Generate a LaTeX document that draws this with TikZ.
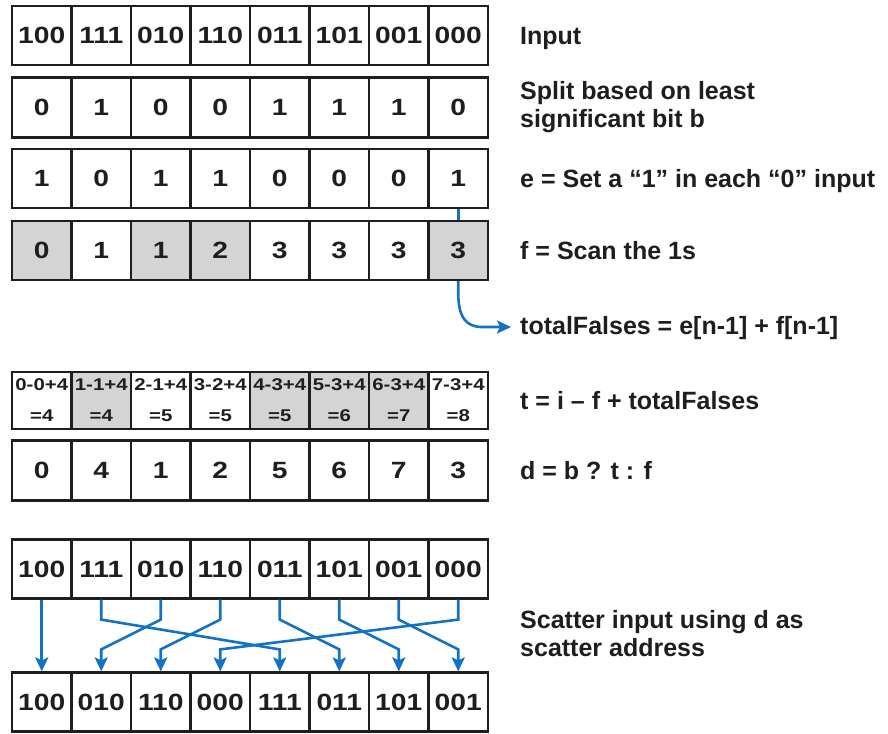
\documentclass[tikz,border=0pt]{standalone}
\usepackage{fontspec}
\setmainfont{Liberation Sans}
\newfontfamily\cellfont[FakeStretch=1.2]{Liberation Sans}
\usetikzlibrary{calc,arrows.meta}

\definecolor{flowblue}{RGB}{20,114,196}
\definecolor{cellgray}{RGB}{212,212,212}
\definecolor{ink}{RGB}{30,30,30}

\begin{document}
\begin{tikzpicture}[x=1pt,y=-1pt,
  cell/.style={draw=ink, line width=2.2pt, minimum width=59.5pt,
    minimum height=59pt, inner sep=0pt, text=ink,
    font=\cellfont\bfseries\fontsize{23.5}{23.5}\selectfont},
  plain/.style={fill=white},
  shaded/.style={fill=cellgray},
  twoline/.style={font=\cellfont\bfseries\fontsize{17}{31}\selectfont, align=center},
  label/.style={inner sep=0pt, text=ink, align=left,
    font=\bfseries\fontsize{25}{28}\selectfont},
  flow/.style={draw=flowblue, line width=2.6pt},
  arr/.style={flow, -{Stealth[length=14pt,width=13pt,inset=3pt]}}
]
\useasboundingbox (0,0) rectangle (888,733);

% input keys
\foreach \v [count=\i from 0] in {100,111,010,110,011,101,001,000}
  \node[cell] (in-\i) at (41.75+59.5*\i, 35.5) {\v};

% b: least significant bit
\foreach \v [count=\i from 0] in {0,1,0,0,1,1,1,0}
  \node[cell, minimum height=60pt] (b-\i) at (41.75+59.5*\i, 107.5) {\v};

% e: inverted bit
\foreach \v [count=\i from 0] in {1,0,1,1,0,0,0,1}
  \node[cell] (e-\i) at (41.75+59.5*\i, 178.5) {\v};

% f: exclusive scan of e
\foreach \v/\s [count=\i from 0] in {0/shaded,1/plain,1/shaded,2/shaded,3/plain,3/plain,3/plain,3/shaded}
  \node[cell, \s] (f-\i) at (41.75+59.5*\i, 250.5) {\v};

% t: destination of the "true" elements
\foreach \a/\b/\s [count=\i from 0] in {0-0+4/4/plain,1-1+4/4/shaded,2-1+4/5/plain,3-2+4/5/plain,4-3+4/5/shaded,5-3+4/6/shaded,6-3+4/7/shaded,7-3+4/8/plain}
  \node[cell, twoline, minimum height=57pt, \s] (t-\i) at (41.75+59.5*\i, 400.5) {\a\\=\b};

% d: scatter addresses
\foreach \v [count=\i from 0] in {0,4,1,2,5,6,7,3}
  \node[cell, minimum height=60pt] (d-\i) at (41.75+59.5*\i, 470.5) {\v};

% scatter source and result
\foreach \v [count=\i from 0] in {100,111,010,110,011,101,001,000}
  \node[cell] (src-\i) at (41.75+59.5*\i, 569) {\v};
\foreach \v [count=\i from 0] in {100,010,110,000,111,011,101,001}
  \node[cell] (dst-\i) at (41.75+59.5*\i, 702) {\v};

% row descriptions
\node[label, anchor=base west] (lin) at (520,44.5) {Input};
\node[label, anchor=west] (lsplit) at (520,107.5) {Split based on least\\significant bit b};
\node[label, anchor=base west] (le) at (520,187.5) {e = Set a “1” in each “0” input};
\node[label, anchor=base west] (lf) at (520,259.5) {f = Scan the 1s};
\node[label, anchor=base west] (ltf) at (520,334) {totalFalses = e[n-1] + f[n-1]};
\node[label, anchor=base west] (lt) at (520,409.5) {t = i – f + totalFalses};
\node[label, anchor=base west] (ld) at (520,479.5) {d = b ? t : f};
\node[label, anchor=west] (lsc) at (520,634) {Scatter input using d as\\scatter address};

% totalFalses from the last e and f entries
\coordinate (tfend) at (511,327);
\coordinate (tfbend) at (482,327);
\draw[flow] (e-7.south) -- (f-7.north);
\draw[arr] (f-7.south) -- ++(0,12) .. controls +(0,24) and +(-16,0) .. (tfbend) -- (tfend);

% scatter connections
\draw[arr] (src-0.south) -- (dst-0.north);
\foreach \i/\j in {1/4,2/1,3/2,4/5,5/6,6/7,7/3}
  \draw[arr] (src-\i.south) -- ++(0,20) -- ($(dst-\j.north)+(0,-22)$) -- (dst-\j.north);
\end{tikzpicture}
\end{document}
